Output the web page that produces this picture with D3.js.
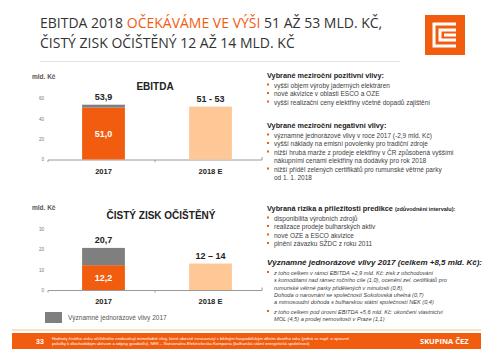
<!DOCTYPE html>
<html>
<head>
<meta charset="utf-8">
<script src="https://cdn.jsdelivr.net/npm/d3@7"></script>
<style>
  body { margin: 0; background: #fff; }
  svg { display: block; font-family: "Liberation Sans", Arial, sans-serif; }
</style>
</head>
<body>
<svg id="slide" width="500" height="352"></svg>
<script>
const categories = ['2017', '2018 E'];

const ebitdaBase = [51.0, 52];
const ebitdaOneOff = [2.9, 0];
const ebitdaTop = ['53,9', '51 - 53'];
const ebitdaInside = ['51,0', ''];
const ebitdaTicks = [0, 20, 40, 60];

const profitBase = [12.2, 13];
const profitOneOff = [8.5, 0];
const profitTop = ['20,7', '12 – 14'];
const profitInside = ['12,2', ''];
const profitTicks = [0, 10, 20, 30];

const positives = [
    'vyšší objem výroby jaderných elektráren',
    'nové akvizice v oblasti ESCO a OZE',
    'vyšší realizační ceny elektřiny včetně dopadů zajištění'
];
const negatives = [
    ['významné jednorázové vlivy v roce 2017 (-2,9 mld. Kč)'],
    ['vyšší náklady na emisní povolenky pro tradiční zdroje'],
    ['nižší hrubá marže z prodeje elektřiny v ČR způsobená vyššími', 'nákupními cenami elektřiny na dodávky pro rok 2018'],
    ['nižší příděl zelených certifikátů pro rumunské větrné parky', 'od 1. 1. 2018']
];
const risks = [
    'disponibilita výrobních zdrojů',
    'realizace prodeje bulharských aktiv',
    'nové OZE a ESCO akvizice',
    'plnění závazku SŽDC z roku 2011'
];
const oneOffs = [
    ['z toho celkem v rámci EBITDA +2,9 mld. Kč: zisk z obchodování',
     's komoditami nad rámec ročního cíle (1,0), ocenění zel. certifikátů pro',
     'rumunské větrné parky přidělených v minulosti (0,8),',
     'Dohoda o narovnání se společností Sokolovská uhelná (0,7)',
     'a mimosoudní dohoda s bulharskou státní společností NEK (0,4)'],
    ['z toho celkem pod úrovní EBITDA +5,6 mld. Kč: ukončení vlastnictví',
     'MOL (4,5) a prodej nemovitostí v Praze (1,1)']
];

const orange = '#f25c0f';
const lightOrange = '#fdc796';
const grey = '#7f7f7f';
const textCol = '#404040';

const svg = d3.select('#slide');

// title
const title = svg.append('g')
    .style('font-family', '"Open Sans", sans-serif')
    .style('font-size', '14px')
    .attr('fill', '#333');
const t1 = title.append('text').attr('x', 40).attr('y', 28);
t1.append('tspan').text('EBITDA 2018 ');
t1.append('tspan').attr('fill', orange).text('OČEKÁVÁME VE VÝŠI');
t1.append('tspan').text(' 51 AŽ 53 MLD. KČ,');
title.append('text').attr('x', 40).attr('y', 48).text('ČISTÝ ZISK OČIŠTĚNÝ 12 AŽ 14 MLD. KČ');

svg.append('line')
    .attr('x1', 40).attr('x2', 400)
    .attr('y1', 61.5).attr('y2', 61.5)
    .attr('stroke', '#e3e3e3');

// logo
const logo = svg.append('g').attr('transform', 'translate(425,15)');
logo.append('rect').attr('width', 40).attr('height', 40).attr('fill', orange);
logo.append('path')
    .attr('d', 'M31,9H9V31H31 M31,15H15V25H31')
    .attr('fill', 'none').attr('stroke', '#fff').attr('stroke-width', 3);
logo.append('rect').attr('x', 19).attr('y', 18.5).attr('width', 12).attr('height', 3).attr('fill', '#fff');

function barChart(opts) {
    const g = svg.append('g');
    const x = d3.scaleBand()
        .domain(categories)
        .range([50, 264])
        .paddingInner(0.6)
        .paddingOuter(0.3);
    const y = d3.scaleLinear()
        .domain([0, opts.max])
        .range([opts.bottom, opts.bottom - opts.pxHeight]);

    g.append('text')
        .attr('x', 32).attr('y', opts.unitY)
        .attr('font-size', 6.5).attr('font-weight', 'bold').attr('fill', '#555')
        .text('mld. Kč');

    g.append('text')
        .attr('x', opts.titleX).attr('y', opts.titleY)
        .attr('text-anchor', 'middle')
        .attr('font-size', 10).attr('font-weight', 'bold').attr('fill', '#222')
        .text(opts.title);

    const yAxis = g.append('g')
        .attr('transform', 'translate(46,0)')
        .call(d3.axisLeft(y).tickValues(opts.ticks).tickSize(0).tickPadding(2));
    yAxis.select('.domain').remove();
    yAxis.selectAll('text').attr('font-size', 4.5).attr('fill', '#777').attr('font-family', null);

    // axis line with boundary ticks
    const r = x.range();
    g.append('line')
        .attr('x1', r[0] - 2).attr('x2', r[1] - 2)
        .attr('y1', y(0) + 0.5).attr('y2', y(0) + 0.5)
        .attr('stroke', '#9a9a9a');
    d3.range(0, categories.length + 1).forEach(i => {
        const xx = r[0] + i * x.step() - 2;
        g.append('line')
            .attr('x1', xx).attr('x2', xx)
            .attr('y1', y(0) + 0.5).attr('y2', y(0) + (i === categories.length ? -2.5 : 2.5))
            .attr('stroke', '#9a9a9a');
    });

    const rows = categories.map((c, i) => ({ c, base: opts.base[i], extra: opts.extra[i], i }));

    g.selectAll('.base').data(rows).enter().append('rect')
        .attr('x', d => x(d.c))
        .attr('width', x.bandwidth())
        .attr('y', d => y(d.base))
        .attr('height', d => y(0) - y(d.base))
        .attr('fill', d => d.i === 0 ? orange : lightOrange);

    g.selectAll('.extra').data(rows.filter(d => d.extra > 0)).enter().append('rect')
        .attr('x', d => x(d.c))
        .attr('width', x.bandwidth())
        .attr('y', d => y(d.base + d.extra))
        .attr('height', d => y(d.base) - y(d.base + d.extra))
        .attr('fill', grey);

    g.selectAll('.top').data(rows).enter().append('text')
        .attr('x', d => x(d.c) + x.bandwidth() / 2)
        .attr('y', d => y(d.base + d.extra) - 5)
        .attr('text-anchor', 'middle')
        .attr('font-size', 9).attr('font-weight', 'bold').attr('fill', '#222')
        .text(d => opts.topLabels[d.i]);

    g.selectAll('.inside').data(rows).enter().append('text')
        .attr('x', d => x(d.c) + x.bandwidth() / 2)
        .attr('y', d => y(d.base / 2) + 3.5)
        .attr('text-anchor', 'middle')
        .attr('font-size', 9).attr('font-weight', 'bold').attr('fill', '#fff')
        .text(d => opts.insideLabels[d.i]);

    g.selectAll('.cat').data(categories).enter().append('text')
        .attr('x', d => x(d) + x.bandwidth() / 2)
        .attr('y', y(0) + 14)
        .attr('text-anchor', 'middle')
        .attr('font-size', 7.5).attr('font-weight', 'bold').attr('fill', '#222')
        .text(d => d);
}

barChart({
    title: 'EBITDA', titleX: 155, titleY: 90, unitY: 79,
    base: ebitdaBase, extra: ebitdaOneOff, topLabels: ebitdaTop, insideLabels: ebitdaInside,
    ticks: ebitdaTicks, max: 60, bottom: 159.5, pxHeight: 61
});

barChart({
    title: 'ČISTÝ ZISK OČIŠTĚNÝ', titleX: 161, titleY: 219, unitY: 210,
    base: profitBase, extra: profitOneOff, topLabels: profitTop, insideLabels: profitInside,
    ticks: profitTicks, max: 30, bottom: 290, pxHeight: 61
});

// legend
svg.append('rect').attr('x', 45).attr('y', 312).attr('width', 17).attr('height', 11).attr('fill', grey);
svg.append('text').attr('x', 68).attr('y', 320)
    .attr('font-size', 6.5).attr('fill', '#555')
    .text('Významné jednorázové vlivy 2017');

// right panel
const panel = svg.append('g').attr('fill', textCol);
const lx = 267, tx = 274, lh = 8.5;

function heading(y, txt, extra) {
    const t = panel.append('text').attr('x', lx).attr('y', y)
        .attr('font-size', 7.3).attr('font-weight', 'bold').attr('fill', '#222').text(txt);
    if (extra) t.append('tspan').attr('font-size', 5.5).text(extra);
}
function bullet(y) {
    panel.append('rect').attr('x', lx).attr('y', y - 4).attr('width', 2).attr('height', 2).attr('fill', orange);
}
function lines(y0, groups, size, italic) {
    let y = y0;
    groups.forEach(gr => {
        bullet(y);
        gr.forEach(s => {
            panel.append('text').attr('x', tx).attr('y', y)
                .attr('font-size', size).attr('font-style', italic ? 'italic' : null).text(s);
            y += italic ? 7.3 : lh;
        });
        if (italic) y += 2.5;
    });
}

heading(78, 'Vybrané meziroční pozitivní vlivy:');
lines(87.5, positives.map(s => [s]), 6.5);
heading(128, 'Vybrané meziroční negativní vlivy:');
lines(137.5, negatives, 6.5);
heading(211, 'Vybraná rizika a přiležitosti predikce ', '(zdůvodnění intervalu):');
lines(220.5, risks.map(s => [s]), 6.5);
panel.append('text').attr('x', lx).attr('y', 265)
    .attr('font-size', 8).attr('font-weight', 'bold').attr('font-style', 'italic').attr('fill', '#222')
    .text('Významné jednorázové vlivy 2017 (celkem +8,5 mld. Kč):');
lines(275, oneOffs, 5.6, true);

// footer
svg.append('rect').attr('x', 12).attr('y', 329).attr('width', 469).attr('height', 2).attr('fill', '#fde0c8');
svg.append('rect').attr('x', 12).attr('y', 333).attr('width', 469).attr('height', 16).attr('fill', orange);
svg.append('text').attr('x', 36).attr('y', 343.5)
    .attr('font-size', 7).attr('font-weight', 'bold').attr('fill', '#fff').text('33');
svg.append('text').attr('x', 52).attr('y', 339.5)
    .attr('font-size', 4.2).attr('fill', '#fff')
    .text('Hodnoty čistého zisku očištěného neobsahují mimořádné vlivy, které obecně nesouvisejí s běžným hospodářským děním daného roku (jedná se např. o opravné');
svg.append('text').attr('x', 52).attr('y', 345)
    .attr('font-size', 4.2).attr('fill', '#fff')
    .text('položky k dlouhodobým aktivům a odpisy goodwillu). NEK – Natsionalna Elektricheska Kompania (bulharská státní energetická společnost)');
svg.append('text').attr('x', 420).attr('y', 344)
    .attr('font-size', 7.5).attr('font-weight', 'bold').attr('fill', '#fff')
    .style('font-family', '"Open Sans", sans-serif')
    .text('SKUPINA ČEZ');
</script>
</body>
</html>
